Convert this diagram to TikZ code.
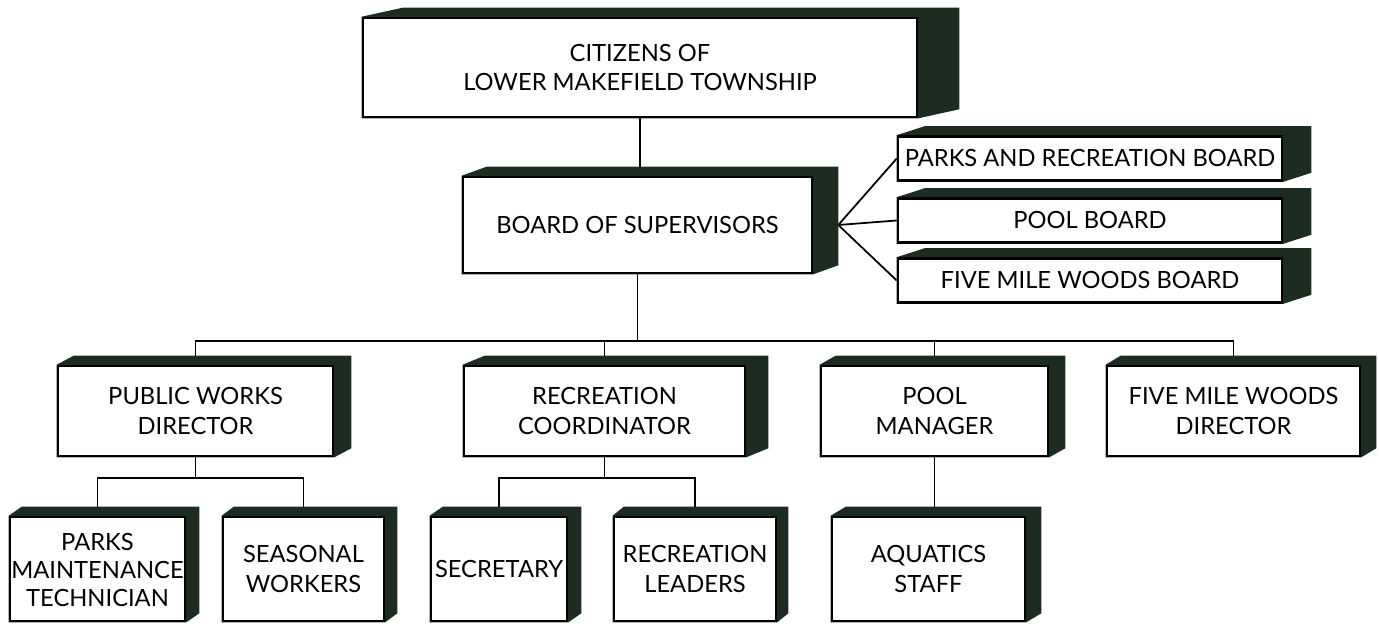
\documentclass[tikz,border=0pt]{standalone}
\usepackage{fontspec}
\setsansfont{Lato}
\usetikzlibrary{calc,backgrounds}

\definecolor{boxshade}{RGB}{28,44,33}

\tikzset{
  unit/.style={draw=black, line width=1.5pt, fill=white, align=center, inner sep=0pt,
    font=\sffamily\fontsize{13.5}{17}\selectfont},
  link/.style={line width=1pt},
}

\begin{document}
\begin{tikzpicture}[x=0.02cm, y=-0.02cm]
    \useasboundingbox (0,0) rectangle (1379,624);

    % Ciudadanos y junta
    \node[unit, minimum width=11.08cm, minimum height=1.98cm] (cit) at (640,67.5) {CITIZENS OF\\LOWER MAKEFIELD TOWNSHIP};
    \node[unit, minimum width=6.98cm, minimum height=1.92cm] (bos) at (637.5,225) {BOARD OF SUPERVISORS};

    % Juntas asesoras
    \node[unit, minimum width=7.68cm, minimum height=0.88cm] (parkb) at (1090,158.5) {PARKS AND RECREATION BOARD};
    \node[unit, minimum width=7.68cm, minimum height=0.88cm] (poolb) at (1090,220.5) {POOL BOARD};
    \node[unit, minimum width=7.68cm, minimum height=0.88cm] (woodb) at (1090,280.5) {FIVE MILE WOODS BOARD};

    % Directores
    \node[unit, minimum width=5.5cm, minimum height=1.8cm] (pw) at (195.5,411) {PUBLIC WORKS\\DIRECTOR};
    \node[unit, minimum width=5.62cm, minimum height=1.8cm] (rc) at (604.5,411) {RECREATION\\COORDINATOR};
    \node[unit, minimum width=4.54cm, minimum height=1.8cm] (pm) at (934.5,411) {POOL\\MANAGER};
    \node[unit, minimum width=5.06cm, minimum height=1.8cm] (fmwd) at (1233.5,411) {FIVE MILE WOODS\\DIRECTOR};

    % Personal
    \node[unit, minimum width=3.5cm, minimum height=2.08cm] (pmt) at (97.5,569) {\\[-6pt]PARKS\\[-1pt]MAINTENANCE\\[-1pt]TECHNICIAN};
    \node[unit, minimum width=3.22cm, minimum height=2.08cm] (sw) at (303.5,569) {SEASONAL\\WORKERS};
    \node[unit, minimum width=2.72cm, minimum height=2.08cm] (sec) at (499,569) {SECRETARY};
    \node[unit, minimum width=3.24cm, minimum height=2.08cm] (rl) at (695,569) {RECREATION\\LEADERS};
    \node[unit, minimum width=3.86cm, minimum height=2.08cm] (aq) at (928.5,569) {AQUATICS\\STAFF};

    \begin{scope}[on background layer]
        % Lineas
        \draw[link] (cit.south) -- (cit.south |- bos.north);
        \draw[link] (bos.south) -- ++(0,67) coordinate (hub);
        \draw[link] (pw.north) |- (hub) -| (fmwd.north);
        \draw[link] (rc.north) -- (rc.north |- hub);
        \draw[link] (pm.north) -- (pm.north |- hub);
        \coordinate (bosr) at ([xshift=0.5cm]bos.east);
        \draw[link] (parkb.west) -- (bosr) -- (woodb.west);
        \draw[link] (bosr) -- (poolb.west);
        \draw[link] (pw.south) -- ++(0,21) coordinate (pwhub);
        \draw[link] (pmt.north) |- (pwhub) -| (sw.north);
        \draw[link] (rc.south) -- ++(0,21) coordinate (rchub);
        \draw[link] (sec.north) |- (rchub) -| (rl.north);
        \draw[link] (pm.south) -- (pm.south |- aq.north);

        % Sombras de las cajas
        \foreach \n/\d in {cit/41, bos/25, parkb/28, poolb/28, woodb/28, pw/17, rc/22, pm/16, fmwd/15,
                           pmt/13, sw/12, sec/13, rl/11, aq/15}
            \fill[boxshade] (\n.north west) -- ++(\d,-9) -- ($(\n.north east)+(\d,-9)$)
                -- ($(\n.south east)+(\d,-9)$) -- (\n.south east) -- (\n.south west) -- cycle;
    \end{scope}
\end{tikzpicture}
\end{document}
